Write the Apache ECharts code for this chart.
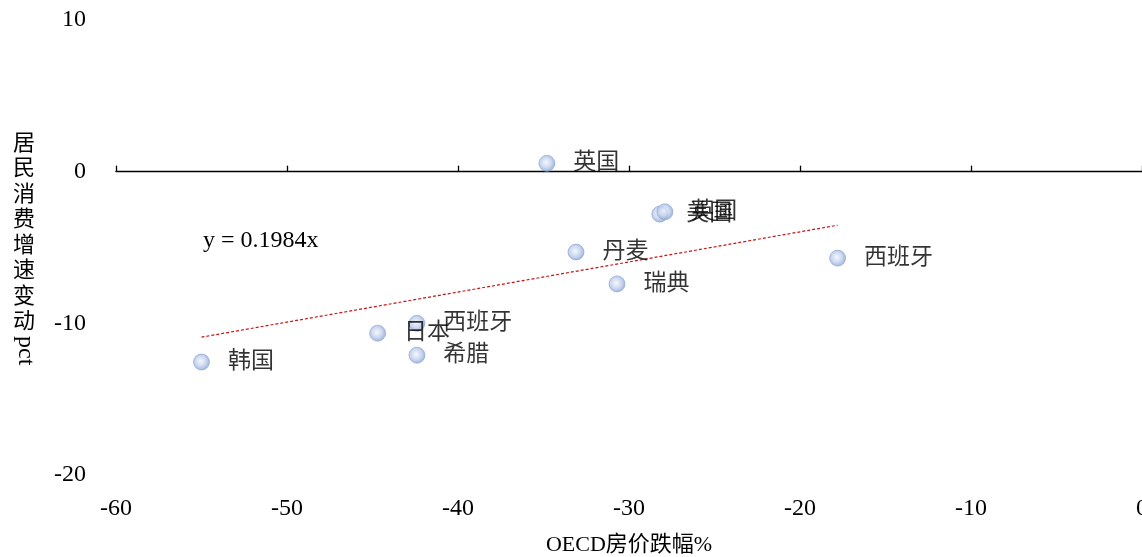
<!DOCTYPE html>
<html>
<head>
<meta charset="utf-8">
<script src="https://cdn.jsdelivr.net/npm/echarts@6/dist/echarts.min.js"></script>
<style>
  html, body { margin: 0; padding: 0; background: #fff; overflow: hidden; }
  #chart { width: 1142px; height: 557px; }
</style>
</head>
<body>
<div id="chart"></div>
<script>
// Countries: OECD house-price decline (%) vs. change in household consumption growth (pct)
const countries = ['英国', '美国', '英国', '丹麦', '瑞典', '西班牙', '日本', '西班牙', '希腊', '韩国'];
const priceDrop = [-34.8, -28.2, -27.9, -33.1, -30.7, -17.8, -44.7, -42.4, -42.4, -55.0];
const consumptionChange = [0.55, -2.8, -2.65, -5.3, -7.4, -5.7, -10.65, -10.0, -12.1, -12.55];
const slope = 0.1984;
const xTicks = [-60, -50, -40, -30, -20, -10, 0];
const yTicks = [-20, -10, 0, 10];

const serif = '"Liberation Serif", "Times New Roman", serif';
const cjk = '"Liberation Serif", "Noto Sans CJK SC", serif';

const points = priceDrop.map((x, i) => ({ value: [x, consumptionChange[i]], name: countries[i] }));
const xMinData = Math.min(...priceDrop);
const xMaxData = Math.max(...priceDrop);
const trend = [[xMinData, slope * xMinData], [xMaxData, slope * xMaxData]];

const chart = echarts.init(document.getElementById('chart'));
chart.setOption({
  animation: false,
  backgroundColor: '#fff',
  grid: { left: 116, right: 0, top: 20, bottom: 82, containLabel: false, outerBoundsMode: 'none' },
  xAxis: [
    {
      type: 'value', position: 'bottom',
      min: xTicks[0], max: xTicks[xTicks.length - 1], interval: 10,
      axisLine: { show: false, onZero: false },
      axisTick: { show: false },
      splitLine: { show: false },
      axisLabel: { fontFamily: serif, fontSize: 24, color: '#000', margin: 22 },
      name: 'OECD房价跌幅%', nameLocation: 'middle', nameGap: 59,
      nameTextStyle: { fontFamily: cjk, fontSize: 22, color: '#000' }
    },
    {
      type: 'value', position: 'top',
      min: xTicks[0], max: xTicks[xTicks.length - 1], interval: 10,
      axisLine: { show: true, onZero: true, lineStyle: { color: '#000', width: 1.3 } },
      axisTick: { show: true, inside: false, length: 6, lineStyle: { color: '#000', width: 1.3 } },
      axisLabel: { show: false },
      splitLine: { show: false }
    }
  ],
  yAxis: {
    type: 'value',
    min: yTicks[0], max: yTicks[yTicks.length - 1], interval: 10,
    axisLine: { show: false },
    axisTick: { show: false },
    splitLine: { show: false },
    axisLabel: { fontFamily: serif, fontSize: 24, color: '#000', margin: 30 }
  },
  graphic: [
    {
      type: 'text', left: 13, top: 131,
      style: {
        text: '居\n民\n消\n费\n增\n速\n变\n动',
        font: '22px ' + cjk, fill: '#000', lineHeight: 25.5
      }
    },
    {
      type: 'text', x: 37, y: 336, rotation: -Math.PI / 2,
      style: { text: 'pct', font: '24px ' + serif, fill: '#000' }
    },
    {
      type: 'text', left: 203, top: 229,
      style: { text: 'y = 0.1984x', font: '24px ' + serif, fill: '#000' }
    }
  ],
  series: [
    {
      type: 'line',
      xAxisIndex: 0,
      data: trend,
      symbol: 'none',
      lineStyle: { color: '#c81414', width: 1.2, type: [3, 2] },
      z: 2
    },
    {
      type: 'scatter',
      xAxisIndex: 0,
      data: points,
      symbol: 'circle',
      symbolSize: 16,
      itemStyle: {
        color: {
          type: 'radial', x: 0.45, y: 0.45, r: 0.6,
          colorStops: [
            { offset: 0, color: '#f2f5fb' },
            { offset: 0.5, color: '#c3d1ec' },
            { offset: 1, color: '#7c98d0' }
          ]
        },
        borderColor: '#8aa3d4', borderWidth: 0.8
      },
      label: {
        show: true, position: 'right', distance: 18,
        formatter: p => p.name,
        fontFamily: cjk, fontSize: 23, color: '#000'
      },
      z: 3
    }
  ]
});
</script>
</body>
</html>
